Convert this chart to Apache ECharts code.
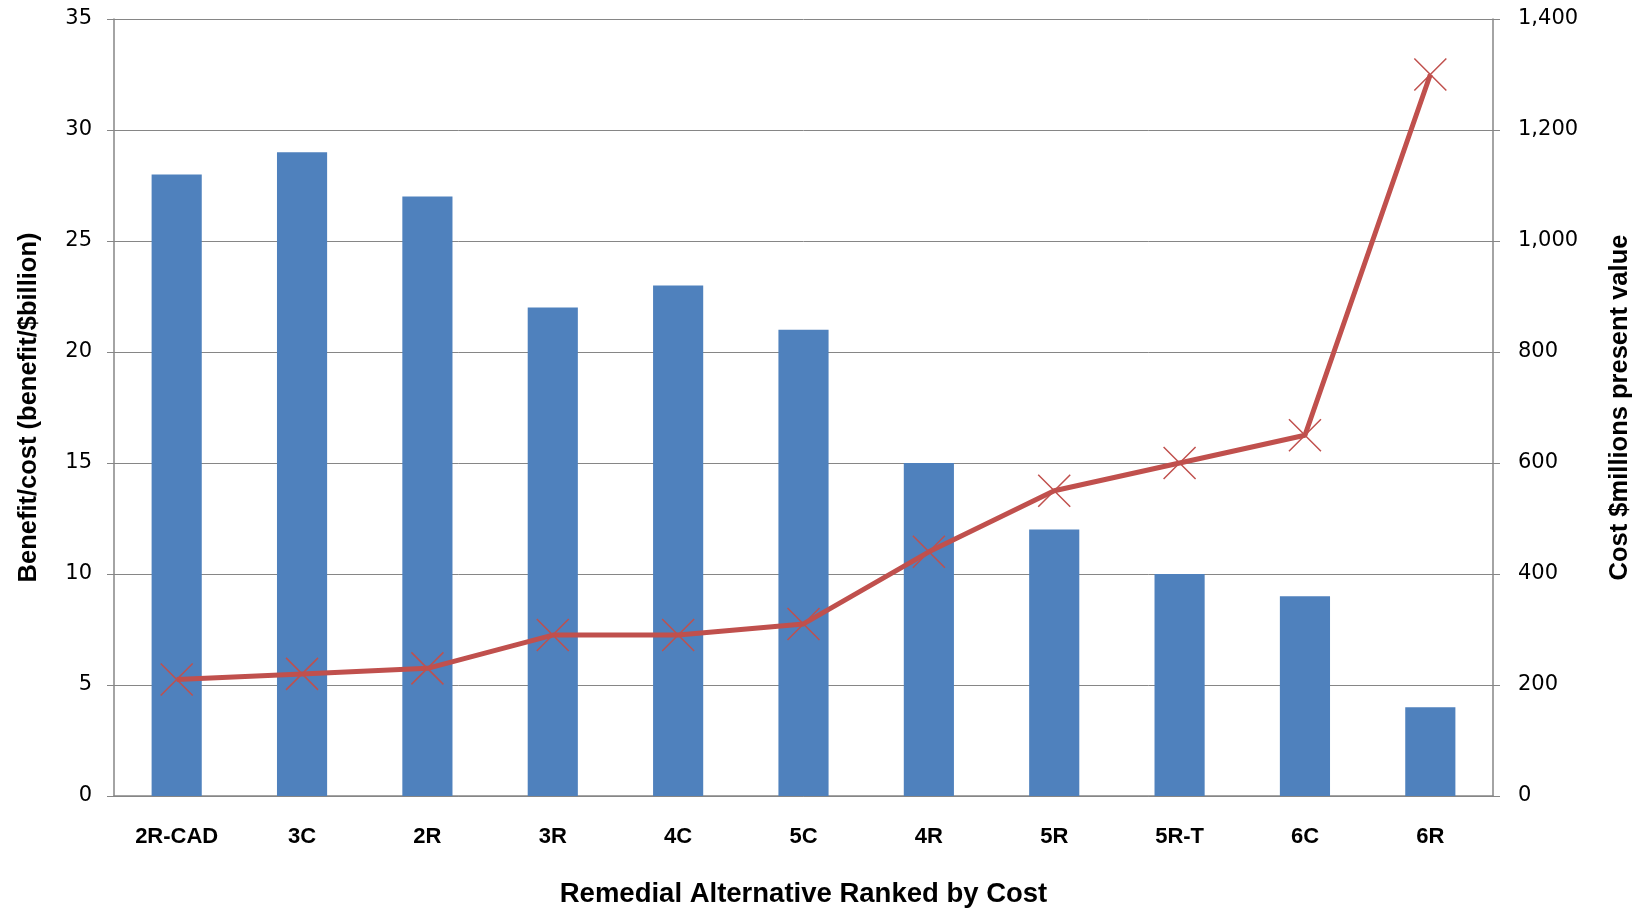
<!DOCTYPE html>
<html><head><meta charset="utf-8">
<script src="https://cdn.jsdelivr.net/npm/echarts@6/dist/echarts.min.js"></script>
<style>html,body{margin:0;padding:0;background:#fff}#c{width:1644px;height:911px}</style>
</head><body><div id="c"></div>
<script>
const categories = ['2R-CAD','3C','2R','3R','4C','5C','4R','5R','5R-T','6C','6R'];
const benefitCost = [28, 29, 27, 22, 23, 21, 15, 12, 10, 9, 4];
const costMillions = [210, 220, 230, 290, 290, 310, 440, 550, 600, 650, 1300];
const leftTicks = {min: 0, max: 35, interval: 5};
const rightTicks = {min: 0, max: 1400, interval: 200};

const tickFont = 'DejaVu Sans';
const boldFont = '"Liberation Sans Narrow", "Liberation Sans", sans-serif';
const chart = echarts.init(document.getElementById('c'));
chart.setOption({
  animation: false,
  grid: {left: 114, right: 151, top: 19, bottom: 115, containLabel: false, outerBoundsMode: 'none'},
  xAxis: {
    type: 'category', data: categories,
    axisLine: {lineStyle: {color: '#868686', width: 1.5}},
    axisTick: {show: false},
    axisLabel: {color: '#000', fontFamily: boldFont, fontWeight: 'bold', fontSize: 22, margin: 30},
    name: 'Remedial Alternative Ranked by Cost', nameLocation: 'middle', nameGap: 84,
    nameTextStyle: {color: '#000', fontFamily: boldFont, fontWeight: 'bold', fontSize: 27.5}
  },
  yAxis: [{
    type: 'value', min: leftTicks.min, max: leftTicks.max, interval: leftTicks.interval,
    axisLine: {show: true, lineStyle: {color: '#868686', width: 1.5}},
    axisTick: {show: true, length: 7, lineStyle: {color: '#868686'}},
    splitLine: {lineStyle: {color: '#868686', width: 1}},
    axisLabel: {color: '#000', fontFamily: tickFont, fontSize: 21, margin: 22},
    name: 'Benefit/cost (benefit/$billion)', nameLocation: 'middle', nameGap: 72, nameRotate: 90,
    nameTextStyle: {color: '#000', fontFamily: boldFont, fontWeight: 'bold', fontSize: 25.5}
  }, {
    type: 'value', min: rightTicks.min, max: rightTicks.max, interval: rightTicks.interval,
    position: 'right',
    axisLine: {show: true, lineStyle: {color: '#868686', width: 1.5}},
    axisTick: {show: true, length: 7, lineStyle: {color: '#868686'}},
    splitLine: {show: false},
    axisLabel: {color: '#000', fontFamily: tickFont, fontSize: 21, margin: 25,
      formatter: v => v.toLocaleString('en-US')},
    name: 'Cost $millions present value', nameLocation: 'middle', nameGap: 114, nameRotate: 90,
    nameTextStyle: {color: '#000', fontFamily: boldFont, fontWeight: 'bold', fontSize: 25.5}
  }],
  series: [{
    type: 'bar', data: benefitCost, yAxisIndex: 0, barWidth: '40%',
    itemStyle: {color: '#4F81BD'}
  }, {
    type: 'line', data: costMillions, yAxisIndex: 1,
    lineStyle: {color: '#C0504D', width: 5},
    symbol: 'path://M0,0L10,10M10,0L0,10', symbolSize: 32,
    itemStyle: {color: 'none', borderColor: '#C0504D', borderWidth: 1.5}
  }]
});
</script></body></html>
